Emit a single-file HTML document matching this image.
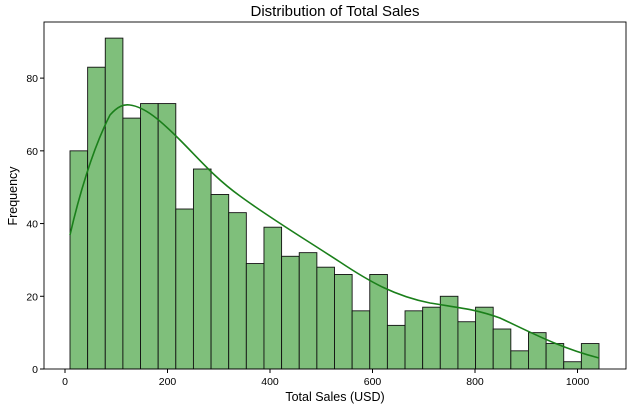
<!DOCTYPE html>
<html><head><meta charset="utf-8"><style>
body{margin:0;background:#fff;}
svg{display:block;font-family:"Liberation Sans","DejaVu Sans",sans-serif;}
</style></head><body>
<svg width="628" height="408" viewBox="0 0 628 408" xmlns="http://www.w3.org/2000/svg">
<rect width="628" height="408" fill="#fff"/>
<text x="335" y="16" font-size="15" text-anchor="middle">Distribution of Total Sales</text>
<g id="bars" fill="#7fbf7b" stroke="#111" stroke-width="0.9"></g>
<path d="M70,235 C78,200 92,150 110,115 C118,106 124,104 130,105 C145,107 160,120 180,140 C200,160 215,178 240,196 C270,218 300,236 340,262 C370,282 395,296 430,303 C460,308 475,309 500,318 C530,332 560,348 599,358" fill="none" stroke="#1a7f1a" stroke-width="1.6"/>
<rect x="44" y="22" width="582" height="347" fill="none" stroke="#000" stroke-width="0.9"/>
<g font-size="10.5" text-anchor="middle" id="xt"></g>
<g font-size="10.5" text-anchor="end" id="yt"></g>
<text x="335" y="401" font-size="12.5" text-anchor="middle">Total Sales (USD)</text>
<text x="17" y="196" font-size="12.5" text-anchor="middle" transform="rotate(-90 17 196)">Frequency</text>
</svg>
<script>
var h=[60,83,91,69,73,73,44,55,48,43,29,39,31,32,28,26,16,26,12,16,17,20,13,17,11,5,10,7,2,7];
var g=document.getElementById('bars'),ns='http://www.w3.org/2000/svg',w=(599-70)/30,k=3.636;
h.forEach(function(v,i){var r=document.createElementNS(ns,'rect');r.setAttribute('x',70+i*w);r.setAttribute('y',369-v*k);r.setAttribute('width',w);r.setAttribute('height',v*k);g.appendChild(r);});
var xt=document.getElementById('xt');
[0,200,400,600,800,1000].forEach(function(v){var x=65+v*0.5125;xt.innerHTML+='<line x1="'+x+'" x2="'+x+'" y1="369" y2="373" stroke="#000"/><text x="'+x+'" y="385">'+v+'</text>';});
var yt=document.getElementById('yt');
[0,20,40,60,80].forEach(function(v){var y=369-v*k;yt.innerHTML+='<line x1="40" x2="44" y1="'+y+'" y2="'+y+'" stroke="#000"/><text x="38" y="'+(y+4)+'">'+v+'</text>';});
</script>
</body></html>
